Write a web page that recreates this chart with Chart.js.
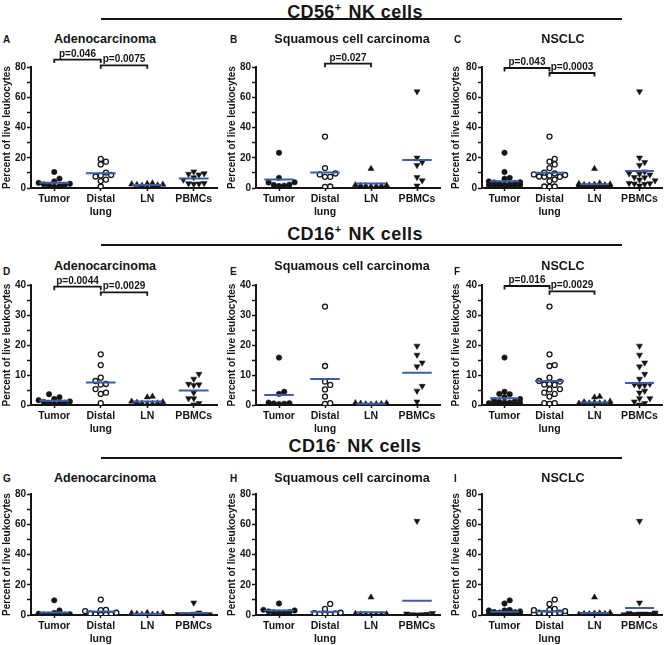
<!DOCTYPE html>
<html>
<head>
<meta charset="utf-8">
<script src="https://cdn.jsdelivr.net/npm/chart.js@4.4.1/dist/chart.umd.min.js"></script>
<style>
  body { margin: 0; background: #fff; }
  #fig { position: relative; width: 669px; height: 645px; overflow: hidden;
         font-family: "Liberation Sans", Arial, Helvetica, sans-serif; color: #151515; }
  .txt { position: absolute; white-space: nowrap; }
  .hdr { letter-spacing: 0.4px; }
  .sup { font-size: 11px; position: relative; top: -7px; margin-right: 7px; }
  .rule { position: absolute; left: 101px; width: 521px; height: 2px; background: #151515; }
  canvas { position: absolute; }
</style>
</head>
<body>
<div id="fig"></div>
<script>
const fam = '"Liberation Sans", Arial, Helvetica, sans-serif';
const ink = '#151515';
const meanBlue = '#3f5cab';

const groupLabels = ['Tumor', ['Distal', 'lung'], 'LN', 'PBMCs'];

// percent of live leukocytes
// order in each list: tumor, distal lung, LN, PBMCs
const cd56Adeno = [
  [10.6, 6.2, 4.4, 3.4, 2.8, 2.4, 2.0, 1.6, 1.2, 0.8],
  [19.2, 17.4, 15.6, 10.2, 8.6, 8.2, 7.6, 5.6, 4.6, 1.0],
  [3.2, 2.8, 2.5, 2.3, 2.1, 1.9, 1.6, 1.3, 0.6],
  [10.8, 9.6, 9.2, 8.8, 7.0, 5.4, 3.2, 3.0, 2.8, 2.6]
];
const cd56Squam = [
  [23.3, 6.7, 3.8, 3.6, 2.2, 2.0, 1.5, 1.3],
  [34.0, 13.2, 9.6, 9.0, 7.4, 7.4, 1.0, 0.8],
  [12.7, 2.0, 1.8, 1.6, 1.5, 1.4, 1.2, 1.0],
  [63.8, 20.0, 17.0, 15.1, 7.1, 4.9, 1.5]
];
const cd16posAdeno = [
  [3.6, 2.6, 2.0, 1.6, 1.2, 1.0, 0.8, 0.6, 0.4, 0.3],
  [16.9, 13.3, 9.1, 8.0, 7.0, 6.8, 5.3, 4.1, 3.7, 0.6],
  [2.8, 2.6, 1.2, 1.0, 0.8, 0.6, 0.5, 0.4, 0.3],
  [10.3, 8.7, 7.0, 6.8, 6.6, 4.1, 2.2, 2.2, 0.6, 0.1]
];
const cd16posSquam = [
  [15.8, 4.4, 3.7, 0.8, 0.6, 0.5, 0.4, 0.3],
  [32.8, 13.0, 7.8, 6.7, 5.2, 2.8, 0.6, 0.4],
  [0.7, 0.6, 0.5, 0.4, 0.3, 0.3, 0.2],
  [19.7, 16.7, 14.1, 12.8, 6.3, 4.7, 1.1]
];
const cd16negAdeno = [
  [9.7, 3.0, 1.4, 0.8, 0.5, 0.3, 0.2, 0.2, 0.1, 0.1],
  [10.2, 3.4, 3.2, 2.6, 1.5, 1.0, 0.6, 0.4, 0.3, 0.2],
  [1.5, 1.2, 1.0, 0.8, 0.5, 0.4, 0.3, 0.2],
  [8.1, 1.5, 0.8, 0.5, 0.4, 0.3, 0.3, 0.2, 0.2, 0.1]
];
const cd16negSquam = [
  [7.6, 3.4, 3.0, 2.4, 2.0, 1.8, 1.6, 1.5],
  [7.3, 4.0, 1.5, 1.2, 1.0, 0.8, 0.6, 0.5],
  [11.7, 0.8, 0.6, 0.5, 0.4, 0.3, 0.3, 0.2],
  [62.1, 1.2, 0.8, 0.6, 0.4, 0.3, 0.2]
];

// NSCLC = adenocarcinoma and squamous patients together
const pooled = (a, b) => a.map((g, i) => g.concat(b[i]));
const cd56Nsclc = pooled(cd56Adeno, cd56Squam);
const cd16posNsclc = pooled(cd16posAdeno, cd16posSquam);
const cd16negNsclc = pooled(cd16negAdeno, cd16negSquam);

// [from group, to group, label]
const cd56AdenoP = [[1, 2, 'p=0.046'], [2, 3, 'p=0.0075']];
const cd56SquamP = [[2, 3, 'p=0.027']];
const cd56NsclcP = [[1, 2, 'p=0.043'], [2, 3, 'p=0.0003']];
const cd16posAdenoP = [[1, 2, 'p=0.0044'], [2, 3, 'p=0.0029']];
const cd16posNsclcP = [[1, 2, 'p=0.016'], [2, 3, 'p=0.0029']];

const headers = [
  ['CD56<span class="sup">+</span>NK cells', 18.5],
  ['CD16<span class="sup">+</span>NK cells', 240.5],
  ['CD16<span class="sup">-</span>NK cells', 452]
];
const ruleTops = [18, 243.5, 457];

const cols = [
  { left: 0, yw: 31, right: 217, title: 105, letter: 3 },
  { left: 225, yw: 31, right: 440, title: 352, letter: 230 },
  { left: 449, yw: 33, right: 662, title: 563, letter: 454 }
];
const rows = [
  { top: 67, bottom: 188, max: 80, step: 10, every: 20, base: 43.3, lbase: 43 },
  { top: 285, bottom: 405, max: 40, step: 5, every: 10, base: 271, lbase: 275 },
  { top: 494, bottom: 615, max: 80, step: 10, every: 20, base: 483, lbase: 482 }
];

const panels = [
  { letter: 'A', title: 'Adenocarcinoma', data: cd56Adeno, p: cd56AdenoP, lift: [-7.4, -1.7] },
  { letter: 'B', title: 'Squamous cell carcinoma', data: cd56Squam, p: cd56SquamP, lift: [-3.3] },
  { letter: 'C', title: 'NSCLC', data: cd56Nsclc, p: cd56NsclcP, lift: [1, 6] },
  { letter: 'D', title: 'Adenocarcinoma', data: cd16posAdeno, p: cd16posAdenoP, lift: [1.7, 7.3] },
  { letter: 'E', title: 'Squamous cell carcinoma', data: cd16posSquam, p: [], lift: [] },
  { letter: 'F', title: 'NSCLC', data: cd16posNsclc, p: cd16posNsclcP, lift: [1, 6.3] },
  { letter: 'G', title: 'Adenocarcinoma', data: cd16negAdeno, p: [], lift: [] },
  { letter: 'H', title: 'Squamous cell carcinoma', data: cd16negSquam, p: [], lift: [] },
  { letter: 'I', title: 'NSCLC', data: cd16negNsclc, p: [], lift: [] }
];

const markers = [
  { style: 'circle', r: 2.7, fill: ink, bw: 0.6, rot: 0 },
  { style: 'circle', r: 2.5, fill: '#fff', bw: 1.3, rot: 0 },
  { style: 'triangle', r: 3.5, fill: ink, bw: 0.5, rot: 0 },
  { style: 'triangle', r: 3.5, fill: ink, bw: 0.5, rot: 180 }
];

const fig = document.getElementById('fig');

function addText(html, x, baseline, size, weight, center, cls) {
  const d = document.createElement('div');
  d.className = 'txt' + (cls ? ' ' + cls : '');
  d.innerHTML = html;
  d.style.fontSize = size + 'px';
  d.style.lineHeight = size + 'px';
  d.style.fontWeight = weight;
  d.style.top = (baseline - 0.8465 * size) + 'px';
  if (center) {
    d.style.left = (x - 300) + 'px';
    d.style.width = '600px';
    d.style.textAlign = 'center';
  } else {
    d.style.left = x + 'px';
  }
  fig.appendChild(d);
}

headers.forEach(([html, base], i) => {
  addText(html, 355, base, 18, 'bold', true, 'hdr');
  const r = document.createElement('div');
  r.className = 'rule';
  r.style.top = ruleTops[i] + 'px';
  fig.appendChild(r);
});

// spread points of a group sideways (dot plot); past the max width they overlap
function swarm(vals, cat, pxX, pxY) {
  const gap = 5.2, maxSpread = 15.6, placed = [];
  const offsets = [0];
  for (let s = gap; s <= maxSpread + 0.01; s += gap) offsets.push(s, -s);
  vals.slice().sort((a, b) => a - b).forEach(v => {
    const py = v * pxY;
    let best = null, bestD = -1;
    for (const dx of offsets) {
      const d = placed.reduce((m, q) => Math.min(m, Math.hypot(q.dx - dx, q.py - py)), Infinity);
      if (d >= gap) { best = dx; break; }
      if (d > bestD + 0.3) { bestD = d; best = dx; }
    }
    placed.push({ dx: best, py, v });
  });
  return placed.map(q => ({ x: cat + q.dx / pxX, y: q.v }));
}

const mean = a => a.reduce((s, v) => s + v, 0) / a.length;

panels.forEach((p, k) => {
  const col = cols[k % 3], row = rows[Math.floor(k / 3)];

  addText(p.letter, col.letter, row.lbase, 10, 'bold', false);
  addText(p.title, col.title, row.base, 12.6, 'bold', true);

  const W = col.right + 6 - col.left, H = row.bottom - row.top + 60;
  const cv = document.createElement('canvas');
  cv.width = W; cv.height = H;
  cv.style.left = col.left + 'px';
  cv.style.top = (row.top - 30) + 'px';
  cv.style.width = W + 'px';
  cv.style.height = H + 'px';
  fig.appendChild(cv);

  const pxX = (col.right - col.left - col.yw) / 4;
  const pxY = (row.bottom - row.top) / row.max;

  const datasets = p.data.map((g, i) => {
    const m = markers[i];
    return {
      type: 'scatter',
      data: swarm(g, i + 1, pxX, pxY),
      pointStyle: m.style,
      pointRadius: m.r,
      pointRotation: m.rot,
      pointBackgroundColor: m.fill,
      pointBorderColor: ink,
      pointBorderWidth: m.bw,
      order: 1
    };
  });

  const meanPts = [];
  p.data.forEach((g, i) => {
    const m = mean(g);
    meanPts.push({ x: i + 0.68, y: m }, { x: i + 1.32, y: m }, { x: i + 1, y: null });
  });
  datasets.push({
    type: 'line',
    data: meanPts,
    borderColor: meanBlue,
    borderWidth: 2,
    pointRadius: 0,
    spanGaps: false,
    order: 0
  });

  const axisGrid = { drawOnChartArea: false, drawTicks: true, tickColor: ink, tickWidth: 1.5 };

  new Chart(cv, {
    type: 'scatter',
    data: { datasets },
    options: {
      responsive: false,
      animation: false,
      events: [],
      layout: { padding: { top: 30, right: 6, left: 0, bottom: 0 } },
      plugins: { legend: { display: false }, tooltip: { enabled: false } },
      scales: {
        x: {
          type: 'linear', min: 0.5, max: 4.5,
          afterBuildTicks: ax => { ax.ticks = [1, 2, 3, 4].map(v => ({ value: v })); },
          afterFit: ax => { ax.height = 30; },
          grid: Object.assign({ tickLength: 3 }, axisGrid),
          border: { display: true, color: ink, width: 2 },
          ticks: {
            autoSkip: false, maxRotation: 0, padding: 2, color: ink,
            font: { family: fam, size: 10.5, weight: 'bold', lineHeight: 1.2 },
            callback: v => groupLabels[v - 1]
          }
        },
        y: {
          min: 0, max: row.max,
          afterFit: ax => { ax.width = col.yw; },
          grid: Object.assign({ tickLength: 4 }, axisGrid),
          border: { display: true, color: ink, width: 2 },
          ticks: {
            stepSize: row.step, padding: 1, color: ink,
            font: { family: fam, size: 10, weight: 'bold' },
            callback: v => (v % row.every === 0 ? v : '')
          },
          title: {
            display: true, text: 'Percent of live leukocytes', color: ink,
            font: { family: fam, size: 10, weight: 'bold' },
            padding: { top: 1, bottom: 0 }
          }
        }
      }
    },
    plugins: [{
      id: 'pvalues',
      afterDraw(chart) {
        const { ctx, chartArea, scales } = chart;
        ctx.save();
        ctx.strokeStyle = ink;
        ctx.fillStyle = ink;
        ctx.lineWidth = 1.8;
        ctx.font = 'bold 10px ' + fam;
        ctx.textAlign = 'center';
        ctx.textBaseline = 'alphabetic';
        p.p.forEach(([a, b, label], j) => {
          const y = chartArea.top + p.lift[j];
          const x1 = scales.x.getPixelForValue(a), x2 = scales.x.getPixelForValue(b);
          ctx.beginPath();
          ctx.moveTo(x1, y + 3.5);
          ctx.lineTo(x1, y);
          ctx.lineTo(x2, y);
          ctx.lineTo(x2, y + 3.5);
          ctx.stroke();
          ctx.fillText(label, (x1 + x2) / 2, y - 3);
        });
        ctx.restore();
      }
    }]
  });
});
</script>
</body>
</html>
